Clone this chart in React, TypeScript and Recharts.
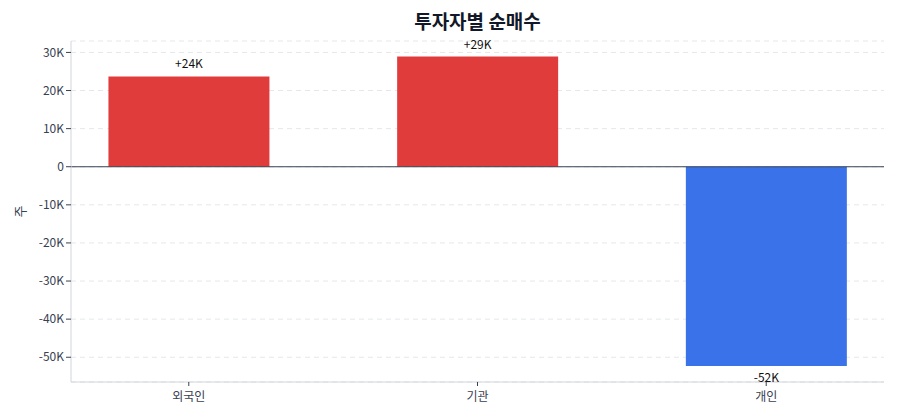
import React from 'react';
import { BarChart, Bar, XAxis, YAxis, CartesianGrid, ReferenceLine, LabelList, Cell } from 'recharts';

const investors = ['외국인', '기관', '개인'];
const netBuy = [23700, 28900, -52300];
const yTicks = [-50000, -40000, -30000, -20000, -10000, 0, 10000, 20000, 30000];

const data = investors.map((name, i) => ({ idx: i, name, value: netBuy[i] }));

const FONT = '"Noto Sans CJK KR", "Noto Sans", sans-serif';
const UP = '#e03c3c';
const DOWN = '#3a73e9';

const fmtTick = (v: number) => (v === 0 ? '0' : `${v / 1000}K`);
const fmtLabel = (v: number) => `${v > 0 ? '+' : ''}${Math.round(v / 1000)}K`;

const ValueLabel = (props: any) => {
  const { x, y, width, height, value } = props;
  const top = Math.min(y, y + height);
  const bottom = Math.max(y, y + height);
  const cx = x + width / 2;
  const ty = value >= 0 ? top - 8 : bottom + 16;
  return (
    <text x={cx} y={ty} textAnchor="middle" fontSize={12} fill="#111" fontFamily={FONT}>
      {fmtLabel(value)}
    </text>
  );
};

const App: React.FC = () => {
  return (
    <div style={{ position: 'absolute', left: 0, top: 0, width: 900, height: 420, background: '#fff', fontFamily: FONT }}>
      <div style={{ position: 'absolute', left: 0, width: 955, top: 11, lineHeight: '19px', textAlign: 'center', fontSize: 19, fontWeight: 700, color: '#111827' }}>
        투자자별 순매수
      </div>
      <BarChart width={900} height={420} data={data} margin={{ top: 41, right: 16, left: 0, bottom: 0 }}>
        <CartesianGrid vertical={false} stroke="#e5e7eb" strokeDasharray="5 4" />
        <XAxis
          type="number"
          dataKey="idx"
          domain={[-0.408, 2.408]}
          ticks={[0, 1, 2]}
          tickFormatter={(v: number) => investors[v]}
          stroke="#d1d5db"
          tickLine={{ stroke: '#374151' }}
          tickSize={4}
          tickMargin={6}
          tick={{ fontSize: 12, fill: '#374151', fontFamily: FONT }}
          height={38}
          allowDataOverflow
        />
        <YAxis
          domain={[-56500, 33000]}
          ticks={yTicks}
          tickFormatter={fmtTick}
          width={71}
          stroke="#d1d5db"
          tickLine={{ stroke: '#374151' }}
          tickSize={5}
          tick={{ fontSize: 12, fill: '#374151', fontFamily: FONT }}
          allowDataOverflow
          label={{ value: '주', angle: -90, position: 'insideLeft', offset: 20, style: { textAnchor: 'middle', fontSize: 13, fill: '#374151', fontFamily: FONT } }}
        />
        <ReferenceLine y={0} stroke="#374151" strokeWidth={1.2} />
        <Bar dataKey="value" barSize={161} isAnimationActive={false}>
          {data.map((d, i) => (
            <Cell key={i} fill={d.value >= 0 ? UP : DOWN} />
          ))}
          <LabelList dataKey="value" content={ValueLabel} />
        </Bar>
      </BarChart>
    </div>
  );
};

export default App;
